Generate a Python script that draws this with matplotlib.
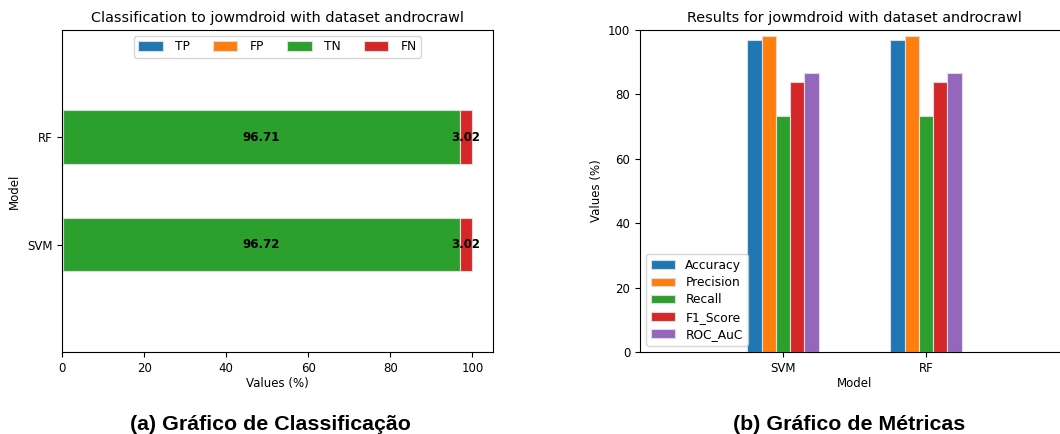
import numpy as np
import matplotlib.pyplot as plt

# classification shares (%) per model
models = ['SVM', 'RF']
tp = [0.0, 0.0]
fp = [0.26, 0.27]
tn = [96.72, 96.71]
fn = [3.02, 3.02]

# metrics (%) per model
metric_names = ['Accuracy', 'Precision', 'Recall', 'F1_Score', 'ROC_AuC']
accuracy = [96.9, 96.9]
precision = [98.2, 98.2]
recall = [73.3, 73.3]
f1_score = [83.9, 83.9]
roc_auc = [86.5, 86.5]

colors = ['#1f77b4', '#ff7f0e', '#2ca02c', '#d62728', '#9467bd']

fig = plt.figure(figsize=(10.6, 4.34), dpi=100)

# (a) stacked horizontal bars
ax1 = fig.add_axes([0.0585, 0.189, 0.4065, 0.742])
y = np.arange(len(models))
left = np.zeros(len(models))
for name, vals, c in zip(['TP', 'FP', 'TN', 'FN'], [tp, fp, tn, fn], colors):
    vals = np.array(vals)
    ax1.barh(y, vals, left=left, height=0.5, color=c, label=name,
             edgecolor='#dddddd', linewidth=0.8)
    for yi, l, v in zip(y, left, vals):
        if v > 1:
            ax1.text(l + v / 2, yi, '%.2f' % v, ha='center', va='center',
                     fontsize=8.5, fontweight='bold')
    left = left + vals
ax1.set_yticks(y)
ax1.set_yticklabels(models)
ax1.set_ylim(-1, 2)
ax1.set_xlim(0, 105)
ax1.set_xlabel('Values (%)', fontsize=8.5, labelpad=2)
ax1.set_ylabel('Model', fontsize=8.5)
ax1.set_title('Classification to jowmdroid with dataset androcrawl', fontsize=10.4)
ax1.tick_params(labelsize=8.5)
ax1.legend(loc='upper center', ncol=4, fontsize=8.8, handlelength=2.0,
           handleheight=0.8, handletextpad=1.0, columnspacing=1.9, borderpad=0.35)

# (b) grouped vertical bars
ax2 = fig.add_axes([0.6038, 0.189, 0.4047, 0.742])
x = np.arange(len(models))
w = 0.1
for i, (name, vals) in enumerate(zip(metric_names, [accuracy, precision, recall, f1_score, roc_auc])):
    ax2.bar(x + (i - 2) * w, vals, width=w, color=colors[i], label=name,
            edgecolor='#dddddd', linewidth=0.8)
ax2.set_xticks(x)
ax2.set_xticklabels(models)
ax2.set_xlim(-1, 2)
ax2.set_ylim(0, 100)
ax2.set_xlabel('Model', fontsize=8.5, labelpad=2)
ax2.set_ylabel('Values (%)', fontsize=8.5)
ax2.set_title('Results for jowmdroid with dataset androcrawl', fontsize=10.4)
ax2.tick_params(labelsize=8.5)
ax2.legend(loc='lower left', fontsize=8.8, labelspacing=0.35)

fig.text(0.255, 0.023, '(a) Gráfico de Classificação', ha='center', va='center',
         fontsize=15.4, fontweight='bold', family='Liberation Sans')
fig.text(0.801, 0.023, '(b) Gráfico de Métricas', ha='center', va='center',
         fontsize=15.4, fontweight='bold', family='Liberation Sans')

fig.savefig('out.png', dpi=100)
